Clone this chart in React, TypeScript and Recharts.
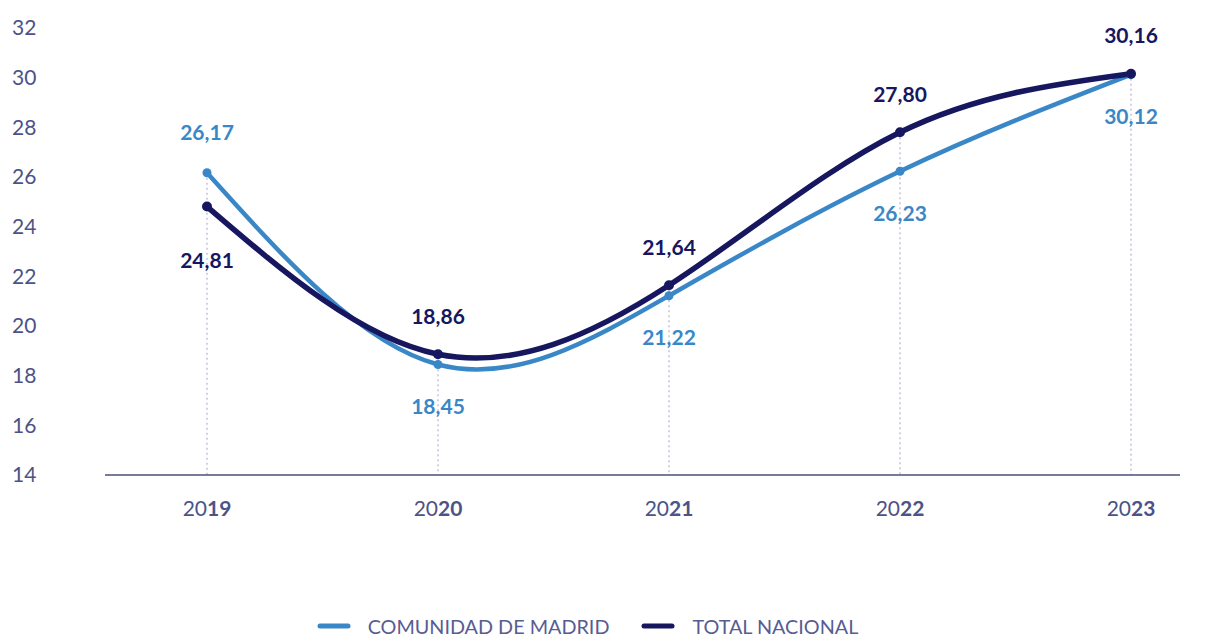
import React from "react";
import { LineChart, Line, XAxis, YAxis, ReferenceLine, LabelList, Legend } from "recharts";

const years = ["2019", "2020", "2021", "2022", "2023"];
const madrid = [26.17, 18.45, 21.22, 26.23, 30.12];
const nacional = [24.81, 18.86, 21.64, 27.8, 30.16];
// dónde va la etiqueta de cada punto respecto a la línea
const madridLabelPos = ["above", "below", "below", "below", "below"];
const nacionalLabelPos = ["below", "above", "above", "above", "above"];
const yTicks = [14, 16, 18, 20, 22, 24, 26, 28, 30, 32];

const MADRID = "#3a87c8";
const NACIONAL = "#16175f";
const INK = "#4d5287";
const FONT = "Lato, 'Open Sans', sans-serif";

const rows = years.map((year, i) => ({ year, madrid: madrid[i], nacional: nacional[i] }));

const fmt = (v: number) => v.toFixed(2).replace(".", ",");

function makeLabel(color: string, pos: string[], above: number, below: number) {
  return (props: any) => {
    const { x, y, value, index } = props;
    const dy = pos[index] === "above" ? -above : below;
    return (
      <text x={x} y={y + dy} dy="0.35em" textAnchor="middle" fill={color}
        fontFamily={FONT} fontSize={21} fontWeight={700}>
        {fmt(Number(value))}
      </text>
    );
  };
}

function YearTick({ x, y, payload }: any) {
  const s = String(payload.value);
  return (
    <text x={x} y={y + 26} dy="0.35em" textAnchor="middle" fill={INK} fontFamily={FONT} fontSize={21}>
      <tspan>{s.slice(0, 2)}</tspan>
      <tspan fontWeight={700}>{s.slice(2)}</tspan>
    </text>
  );
}

function ValueTick({ y, payload }: any) {
  return (
    <text x={12} y={y} dy="0.35em" textAnchor="start" fill={INK} fontFamily={FONT} fontSize={21}>
      {payload.value}
    </text>
  );
}

function LegendBox() {
  const items = [
    { name: "COMUNIDAD DE MADRID", color: MADRID },
    { name: "TOTAL NACIONAL", color: NACIONAL },
  ];
  return (
    <div style={{ display: "flex", justifyContent: "center", alignItems: "center", gap: 32, height: 20 }}>
      {items.map((it) => (
        <div key={it.name} style={{ display: "flex", alignItems: "center", gap: 17 }}>
          <svg width={34} height={6} style={{ display: "block" }}>
            <line x1={3} y1={3} x2={31} y2={3} stroke={it.color} strokeWidth={5} strokeLinecap="round" />
          </svg>
          <span style={{ fontFamily: FONT, fontSize: 19.8, color: "#575c92", lineHeight: "20px", whiteSpace: "nowrap" }}>
            {it.name}
          </span>
        </div>
      ))}
    </div>
  );
}

export default function App() {
  return (
    <div style={{ position: "absolute", left: 0, top: 0, width: 1208, height: 636, background: "#fff" }}>
      <LineChart width={1208} height={636} data={rows} margin={{ top: 28, right: 28, bottom: 0, left: 0 }}>
        <XAxis dataKey="year" padding={{ left: 102, right: 49 }} axisLine={{ stroke: "#4a4f7a", strokeWidth: 1.5 }}
          tickLine={false} height={141} tick={<YearTick />} interval={0} />
        <YAxis domain={[14, 32]} ticks={yTicks} width={105} axisLine={false} tickLine={false} tick={<ValueTick />} />
        {rows.map((r) => (
          <ReferenceLine key={r.year}
            segment={[{ x: r.year, y: Math.max(r.madrid, r.nacional) }, { x: r.year, y: 14 }]}
            stroke="#a3a3c8" strokeDasharray="2 3" strokeWidth={1} />
        ))}
        <Line type="natural" dataKey="madrid" stroke={MADRID} strokeWidth={4.5}
          dot={{ r: 4.5, fill: MADRID, stroke: MADRID, strokeWidth: 0 }} activeDot={false} isAnimationActive={false}>
          <LabelList dataKey="madrid" content={makeLabel(MADRID, madridLabelPos, 40, 42)} />
        </Line>
        <Line type="natural" dataKey="nacional" stroke={NACIONAL} strokeWidth={5.5}
          dot={{ r: 5, fill: NACIONAL, stroke: NACIONAL, strokeWidth: 0 }} activeDot={false} isAnimationActive={false}>
          <LabelList dataKey="nacional" content={makeLabel(NACIONAL, nacionalLabelPos, 38, 54)} />
        </Line>
        <Legend verticalAlign="bottom" height={20} content={<LegendBox />}
          wrapperStyle={{ left: 0, width: 1175, bottom: 0 }} />
      </LineChart>
    </div>
  );
}
